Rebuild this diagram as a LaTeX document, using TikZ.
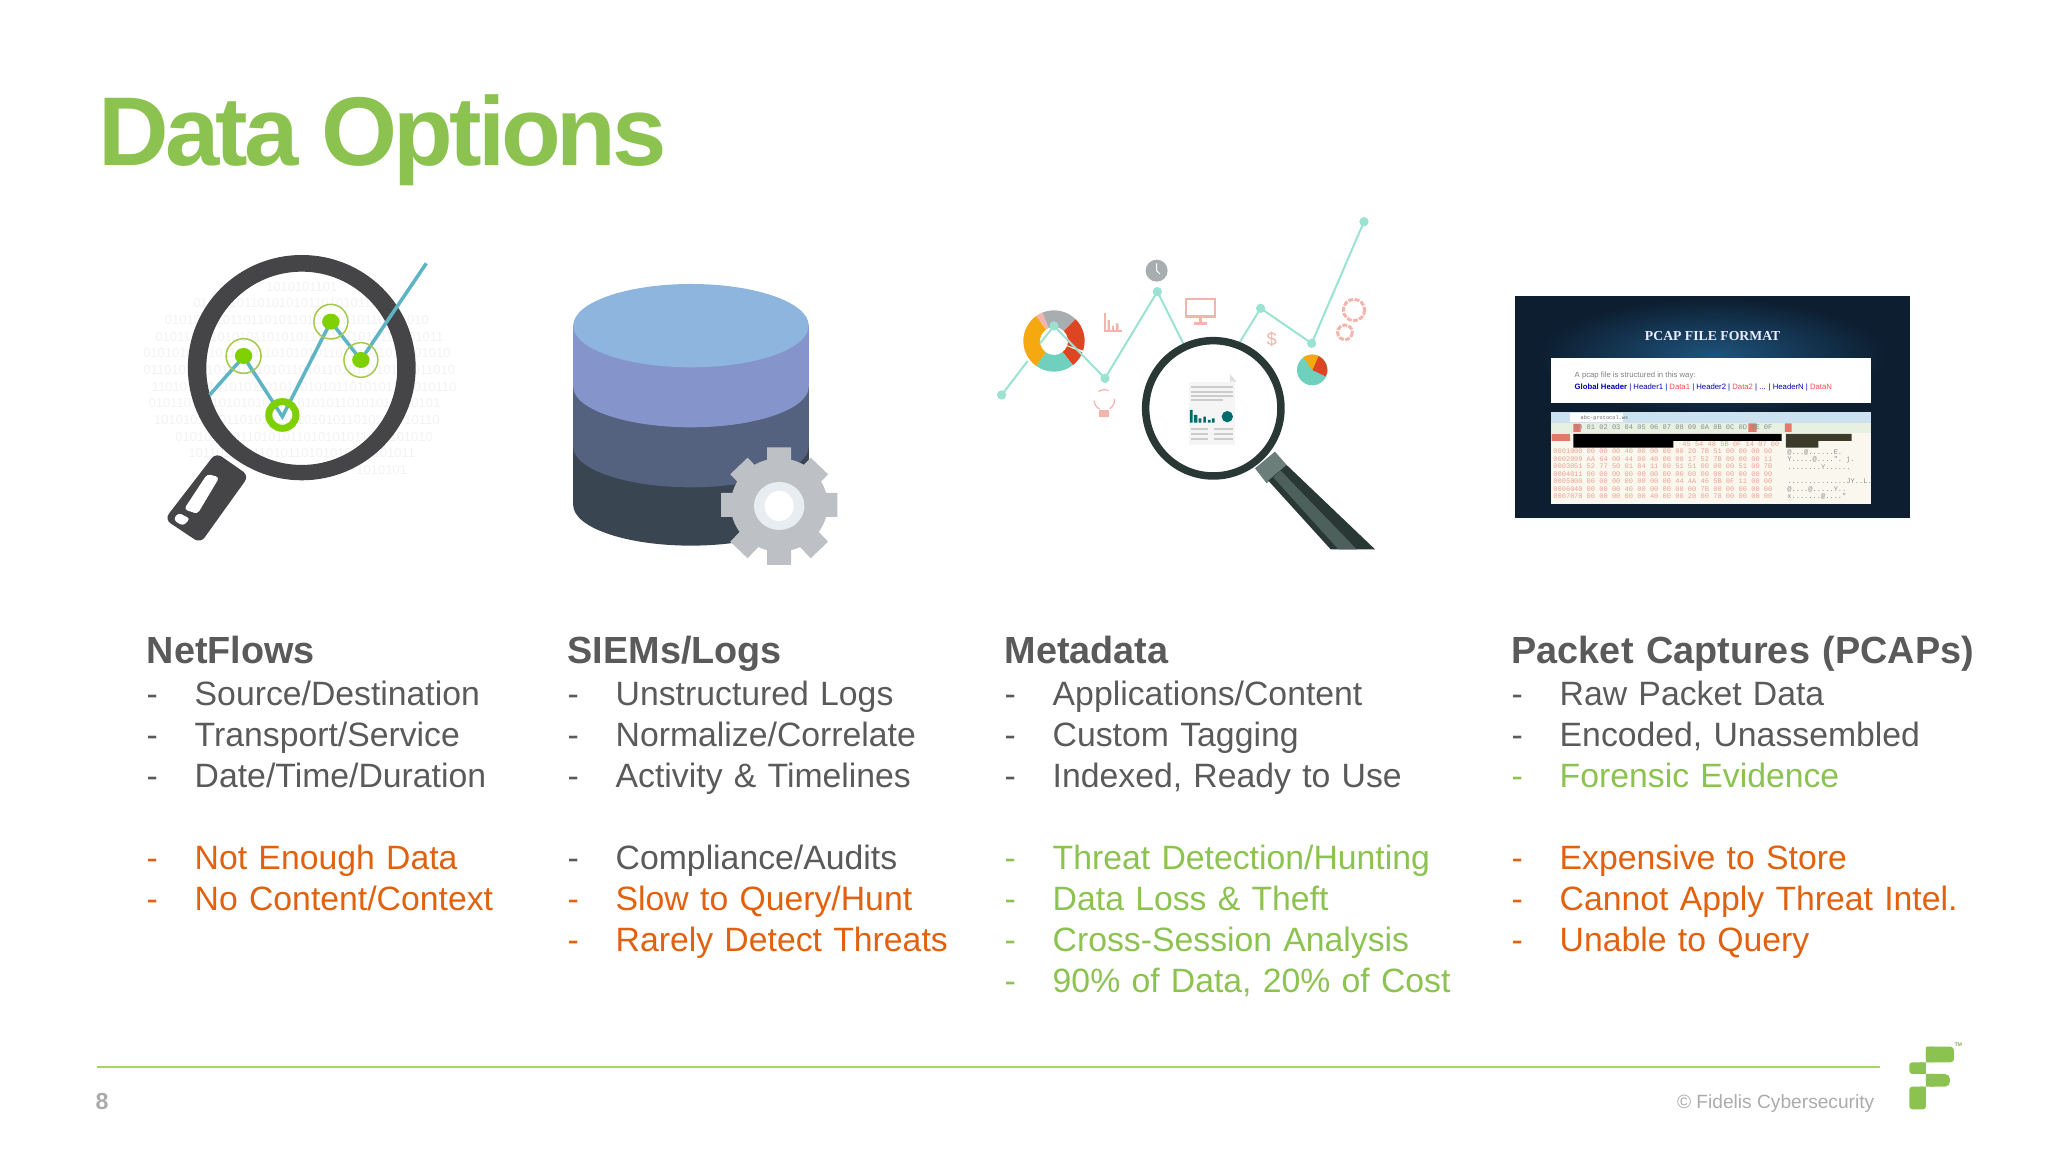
\documentclass[tikz,border=0pt]{standalone}
\usepackage{fontspec}
\setmainfont{Liberation Sans}
\newfontfamily\pcapserif{Liberation Serif}
\newfontfamily\pcapmono{Liberation Mono}
\definecolor{fidelisgreen}{HTML}{8CC350}
\definecolor{rulegreen}{HTML}{A5D46A}
\definecolor{bodygray}{HTML}{5A5A5A}
\definecolor{riskorange}{HTML}{E2610F}
\definecolor{footgray}{HTML}{ABABAB}
\definecolor{bitgray}{HTML}{F3F1F4}
\definecolor{lensdark}{HTML}{454548}
\definecolor{chartteal}{HTML}{5CB4C4}
\definecolor{dotgreen}{HTML}{7FD000}
\definecolor{halogreen}{HTML}{A3C94A}
\definecolor{mintline}{HTML}{9AE3D2}
\definecolor{mintfill}{HTML}{6FD0BE}
\definecolor{salmonicon}{HTML}{F2B4AC}
\definecolor{donutorange}{HTML}{F5A80F}
\definecolor{donutred}{HTML}{DE4522}
\definecolor{donutgray}{HTML}{A8AEB0}
\definecolor{darkhandle}{HTML}{2A3835}
\definecolor{hexsalmon}{HTML}{EBA194}
\newcommand{\listitem}[1]{\makebox[0.48cm][l]{-}#1}
\newcommand{\ringpart}[3]{\fill[#1] (#2:92) arc [start angle=#2, end angle=#3, radius=92] -- (#3:42) arc [start angle=#3, end angle=#2, radius=42] -- cycle;}
\tikzset{
  listline/.style={text width=8cm, align=left, text height=0.26cm, text depth=0.08cm, font=\fontsize{9.6}{11}\selectfont},
  heading/.style={listline, anchor=west, text=bodygray, font=\fontsize{10.75}{12}\selectfont\bfseries},
  plain/.style={listline, text=bodygray},
  risk/.style={listline, text=riskorange},
  good/.style={listline, text=fidelisgreen},
  bits/.style={text=bitgray, font=\fontsize{3.7}{5}\selectfont},
  hexrow/.style={anchor=west, text=hexsalmon, font=\fontsize{2}{2.4}\selectfont\pcapmono},
  hexside/.style={anchor=west, text=black!45, font=\fontsize{2}{2.4}\selectfont\pcapmono},
  mintdot/.style={mintline, fill=mintline}
}
\begin{document}
\begin{tikzpicture}[x=0.01cm, y=-0.01cm, node distance=0.409cm, every node/.style={inner sep=0pt}]
        \useasboundingbox (0,0) rectangle (2048,1152);

        \node (title) [anchor=base west, text=fidelisgreen, font=\fontsize{27.8}{30}\selectfont\bfseries\addfontfeature{LetterSpace=-4.1}] at (98,166) {Data Options};

        \begin{scope}[shift={(120,210)}, xscale=0.4847, yscale=0.3333]
            \node (bits1) [bits] at (375,230) {1010101101};
            \node (bits2) [bits] at (335,280) {0101010110101010110101011};
            \node (bits3) [bits] at (365,330) {0101010101101101011010101010110101010};
            \node (bits4) [bits] at (370,380) {01011110101010110101011101011010110101011};
            \node (bits5) [bits] at (365,430) {0101010101011010110101010110101011010101010};
            \node (bits6) [bits] at (370,480) {01101010110101011010110101101010110101011010};
            \node (bits7) [bits] at (380,530) {1101010110101011010110101011010101101010110};
            \node (bits8) [bits] at (360,580) {01011010110101010110101010110101011010101};
            \node (bits9) [bits] at (365,630) {1010101010110101011010101011010101010110};
            \node (bits10) [bits] at (380,680) {010101010110101011010101011010101010};
            \node (bits11) [bits] at (375,730) {10110101011010110101010110101011};
            \node (bits12) [bits] at (540,780) {1010101};

            \fill[lensdark, even odd rule] (375,473) ellipse [x radius=235, y radius=338] (375,475) ellipse [x radius=197, y radius=290];
            \fill[lensdark, rounded corners=2pt] (198,728) -- (266,797) -- (166,1000) -- (92,928) -- cycle;
            \fill[white, rounded corners=1pt] (180,792) -- (205,802) -- (160,912) -- (132,898) -- cycle;
            \fill[white, rounded corners=1pt] (120,908) -- (145,926) -- (130,948) -- (110,930) -- cycle;
            \draw[chartteal, line width=0.035cm] (185,555) -- (255,440) -- (335,620) -- (435,335) -- (497,450) -- (632,160);
            \draw[halogreen, line width=0.015cm] (255,438) ellipse [x radius=36, y radius=52];
            \draw[halogreen, line width=0.015cm] (435,335) ellipse [x radius=35, y radius=52];
            \draw[halogreen, line width=0.015cm] (497,450) ellipse [x radius=35, y radius=52];
            \fill[dotgreen] (255,438) ellipse [x radius=18, y radius=24];
            \fill[dotgreen] (435,335) ellipse [x radius=18, y radius=24];
            \fill[dotgreen] (497,450) ellipse [x radius=18, y radius=24];
            \draw[dotgreen, line width=0.07cm] (335,615) ellipse [x radius=28, y radius=40];

            \fill[fill={rgb,255:red,57;green,69;blue,81}] (935,345) -- (935,885) arc [start angle=180, end angle=0, x radius=243, y radius=122] -- (1421,345) -- cycle;
            \fill[fill={rgb,255:red,84;green,97;blue,127}] (935,345) -- (935,710) arc [start angle=180, end angle=0, x radius=243, y radius=122] -- (1421,345) -- cycle;
            \fill[fill={rgb,255:red,133;green,149;blue,203}] (935,345) -- (935,530) arc [start angle=180, end angle=0, x radius=243, y radius=122] -- (1421,345) -- cycle;
            \fill[fill={rgb,255:red,141;green,181;blue,222}] (1178,347) ellipse [x radius=243, y radius=125];
            \fill[fill={rgb,255:red,189;green,193;blue,198}] (1360,885) ellipse [x radius=100, y radius=140];
            \draw[draw={rgb,255:red,189;green,193;blue,198}, line width=0.24cm] (1360,712) -- (1360,1065) (1240,885) -- (1480,885) (1277,768) -- (1443,1020) (1443,768) -- (1277,1020);
            \fill[fill={rgb,255:red,232;green,237;blue,241}] (1360,888) ellipse [x radius=52, y radius=72];
            \fill[white] (1360,888) ellipse [x radius=30, y radius=45];
        \end{scope}

        \begin{scope}[shift={(960,200)}, scale=0.3333]
            \draw[mintline, line width=0.02cm] (125,585) -- (203,483);
            \begin{scope}[shift={(282,423)}]
                \ringpart{donutorange}{-235}{-125}
                \ringpart{salmonicon}{-125}{-112}
                \ringpart{donutgray}{-112}{-45}
                \ringpart{donutred}{-45}{18}
                \ringpart{donutred}{22}{52}
                \ringpart{mintfill}{52}{125}
            \end{scope}
            \draw[mintline, line width=0.02cm] (240,430) -- (282,378) -- (435,535) -- (592,275) -- (715,520);
            \draw[mintline, line width=0.02cm] (785,515) -- (902,325) -- (1055,430) -- (1212,65);
            \fill[mintdot] (125,585) circle (14);
            \fill[mintdot] (282,378) circle (14);
            \fill[mintdot] (435,535) circle (14);
            \fill[mintdot] (592,275) circle (14);
            \fill[mintdot] (902,325) circle (14);
            \fill[mintdot] (1055,430) circle (14);
            \fill[mintdot] (1212,65) circle (14);

            \fill[donutgray] (590,212) circle (33);
            \draw[white, line width=0.01cm] (590,190) -- (590,212) -- (600,222);

            \fill[mintfill] (1057,510) circle (46);
            \fill[donutred] (1057,510) -- (1075,468) arc [start angle=-65, end angle=25, radius=46] -- cycle;
            \fill[donutorange] (1057,510) -- (1030,472) arc [start angle=-125, end angle=-65, radius=46] -- cycle;

            \draw[salmonicon, line width=0.02cm] (435,338) -- (435,392) -- (485,392);
            \fill[salmonicon] (443,392) rectangle (450,360) (456,392) rectangle (462,378) (468,392) rectangle (476,370);
            \draw[salmonicon, line width=0.025cm] (678,297) rectangle (765,350) (721,350) -- (721,365) (702,370) -- (740,370);
            \node (dollar) [text=salmonicon, font=\fontsize{5.2}{6}\selectfont] at (935,418) {\$};
            \draw[salmonicon, line width=0.03cm, dash pattern=on 1.4pt off 0.4pt] (1182,330) circle (32) (1155,397) circle (22);
            \draw[salmonicon, line width=0.012cm, dashed] (433,600) circle (31);
            \fill[salmonicon] (418,630) rectangle (448,652);

            \fill[white] (760,625) circle (212);
            \fill[gray!8] (687,545) rectangle (825,735);
            \draw[gray!40, line width=0.02cm] (692,562) -- (818,562) (692,575) -- (818,575) (692,588) -- (818,588) (692,601) -- (790,601) (692,688) -- (745,688) (692,703) -- (745,703) (692,718) -- (745,718) (762,688) -- (818,688) (762,703) -- (818,703) (762,718) -- (818,718);
            \fill[teal!85!black] (690,668) rectangle (698,630) (702,668) rectangle (712,645) (716,668) rectangle (724,655) (730,668) rectangle (738,650) (744,668) rectangle (752,660) (756,668) rectangle (764,655);
            \fill[teal!85!black] (802,650) circle (17);
            \fill[gray!25] (810,522) -- (830,545) -- (810,545) -- cycle;
            \draw[darkhandle, line width=0.075cm] (760,625) circle (203);

            \fill[fill={rgb,255:red,108;green,126;blue,122}] (885,805) -- (945,755) -- (980,795) -- (920,850) -- cycle;
            \fill[darkhandle] (925,842) -- (980,795) -- (1245,1048) -- (1112,1048) -- cycle;
            \fill[fill={rgb,255:red,78;green,96;blue,91}] (962,812) -- (1190,1048) -- (1135,1048) -- (940,832) -- cycle;
        \end{scope}

        \begin{scope}[shift={(1490,280)}, scale=0.3333]
            \fill[fill={rgb,255:red,13;green,30;blue,48}] (76,48) rectangle (1259,714);
            \begin{scope}
                \clip (76,48) rectangle (1259,714);
                \shade[inner color={rgb,255:red,30;green,84;blue,125}, outer color={rgb,255:red,13;green,30;blue,48}] (668,230) ellipse [x radius=520, y radius=175];
            \end{scope}
            \node (pcaptitle) [text=white!92!blue, font=\fontsize{3.9}{5}\selectfont\pcapserif\bfseries] at (668,168) {PCAP FILE FORMAT};
            \fill[white] (183,235) rectangle (1143,370);
            \node (pcapline) [anchor=west, text=black!50, font=\fontsize{2.2}{3}\selectfont] at (252,286) {A pcap file is structured in this way:};
            \node (pcapfields) [anchor=west, text=blue!70!black, font=\fontsize{2.2}{3}\selectfont] at (252,324) {\textbf{Global Header} | Header1 | \textcolor{red!70}{Data1} | Header2 | \textcolor{red!70}{Data2} | ... | HeaderN | \textcolor{red!70}{DataN}};

            \fill[fill={rgb,255:red,250;green,248;blue,238}] (183,395) rectangle (1143,672);
            \fill[fill={rgb,255:red,205;green,226;blue,240}] (183,395) rectangle (1143,430);
            \fill[white] (240,400) rectangle (400,426);
            \node (pcapfile) [anchor=west, text=black!60, font=\fontsize{1.5}{2}\selectfont\pcapmono] at (270,413) {abc-protocol.ws};
            \fill[fill={rgb,255:red,232;green,240;blue,226}] (183,430) rectangle (1143,458);
            \fill[fill={rgb,255:red,230;green,120;blue,105}] (250,432) rectangle (272,456) (775,430) rectangle (800,456) (885,430) rectangle (905,456) (185,462) rectangle (240,483);
            \fill[black] (250,462) rectangle (875,483) (250,483) rectangle (550,503);
            \fill[fill={rgb,255:red,60;green,58;blue,42}] (888,462) rectangle (1085,483) (888,483) rectangle (985,503);
            \node (hexhead) [hexrow, text=black!45] at (250,441) {00 01 02 03  04 05 06 07  08 09 0A 0B  0C 0D 0E 0F};
            \node (hex0) [hexrow] at (575,493) {45 54 48 5B  0F 14 07 00};
            \node (hex1) [hexrow] at (250,515) {00 00 00 00  40 00 00 00  00 20 7B 51  00 00 00 00};
            \node (hex2) [hexrow] at (250,537) {99 AA 64 00  44 00 40 00  00 17 52 7B  00 00 00 11};
            \node (hex3) [hexrow] at (250,560) {51 52 77 50  01 84 11 00  51 51 00 00  00 51 00 7B};
            \node (hex4) [hexrow] at (250,583) {11 00 00 00  00 00 00 00  00 00 00 00  00 00 00 00};
            \node (hex5) [hexrow] at (250,605) {00 00 00 00  00 00 00 00  44 4A 46 5B  0F 11 00 00};
            \node (hex6) [hexrow] at (250,628) {40 00 00 00  40 00 00 00  00 00 7B 00  00 00 00 00};
            \node (hex7) [hexrow] at (250,650) {78 00 00 00  00 00 40 00  00 20 00 78  00 00 00 00};
            \node (side1) [hexside] at (890,517) {@...@......E.};
            \node (side2) [hexside] at (890,540) {Y.....@....".\;\;j.};
            \node (side3) [hexside] at (890,562) {........Y......};
            \node (side4) [hexside] at (890,605) {..............JY..L.};
            \node (side5) [hexside] at (890,628) {@....@.....Y..};
            \node (side6) [hexside] at (890,650) {x.......@...."};
            \node (lab1) [hexrow] at (188,515) {00010};
            \node (lab2) [hexrow] at (188,537) {00020};
            \node (lab3) [hexrow] at (188,560) {00030};
            \node (lab4) [hexrow] at (188,583) {00040};
            \node (lab5) [hexrow] at (188,605) {00050};
            \node (lab6) [hexrow] at (188,628) {00060};
            \node (lab7) [hexrow] at (188,650) {00070};
        \end{scope}

        \node (netflows) [heading] at (146,654.6) {NetFlows};
        \node (nf1) [plain, below of=netflows, yshift=-0.013cm] {\listitem{Source/Destination}};
        \node (nf2) [plain, below of=nf1] {\listitem{Transport/Service}};
        \node (nf3) [plain, below of=nf2] {\listitem{Date/Time/Duration}};
        \node (nf4) [risk, below of=nf3, yshift=-0.409cm] {\listitem{Not Enough Data}};
        \node (nf5) [risk, below of=nf4] {\listitem{No Content/Context}};

        \node (siems) [heading] at (567,654.6) {SIEMs/Logs};
        \node (sl1) [plain, below of=siems, yshift=-0.013cm] {\listitem{Unstructured Logs}};
        \node (sl2) [plain, below of=sl1] {\listitem{Normalize/Correlate}};
        \node (sl3) [plain, below of=sl2] {\listitem{Activity \& Timelines}};
        \node (sl4) [plain, below of=sl3, yshift=-0.409cm] {\listitem{Compliance/Audits}};
        \node (sl5) [risk, below of=sl4] {\listitem{Slow to Query/Hunt}};
        \node (sl6) [risk, below of=sl5] {\listitem{Rarely Detect Threats}};

        \node (metadata) [heading] at (1004,654.6) {Metadata};
        \node (md1) [plain, below of=metadata, yshift=-0.013cm] {\listitem{Applications/Content}};
        \node (md2) [plain, below of=md1] {\listitem{Custom Tagging}};
        \node (md3) [plain, below of=md2] {\listitem{Indexed, Ready to Use}};
        \node (md4) [good, below of=md3, yshift=-0.409cm] {\listitem{Threat Detection/Hunting}};
        \node (md5) [good, below of=md4] {\listitem{Data Loss \& Theft}};
        \node (md6) [good, below of=md5] {\listitem{Cross-Session Analysis}};
        \node (md7) [good, below of=md6] {\listitem{90\% of Data, 20\% of Cost}};

        \node (pcaps) [heading] at (1511,654.6) {Packet Captures (PCAPs)};
        \node (pc1) [plain, below of=pcaps, yshift=-0.013cm] {\listitem{Raw Packet Data}};
        \node (pc2) [plain, below of=pc1] {\listitem{Encoded, Unassembled}};
        \node (pc3) [good, below of=pc2] {\listitem{Forensic Evidence}};
        \node (pc4) [risk, below of=pc3, yshift=-0.409cm] {\listitem{Expensive to Store}};
        \node (pc5) [risk, below of=pc4] {\listitem{Cannot Apply Threat Intel.}};
        \node (pc6) [risk, below of=pc5] {\listitem{Unable to Query}};

        \coordinate (ruleleft) at (97,1067);
        \coordinate (ruleright) at (1880,1067);
        \draw[rulegreen, line width=0.016cm] (ruleleft) -- (ruleright);
        \node (pagenum) [anchor=base west, text=footgray, font=\fontsize{6.6}{8}\selectfont\bfseries] at (95,1109) {8};
        \node (copyright) [anchor=base east, text=footgray, font=\fontsize{5.45}{7}\selectfont] at (1875,1108) {© Fidelis Cybersecurity};

        \begin{scope}[shift={(1640,1020)}, scale=0.3333]
            \fill[fidelisgreen, rounded corners=0.035cm] (858,80) -- (942,80) -- (942,127) -- (858,127) -- cycle;
            \fill[fidelisgreen, rounded corners=0.03cm] (858,127) -- (808,127) -- (808,162) -- (858,162) -- cycle;
            \fill[fidelisgreen, rounded corners=0.05cm] (858,162) -- (930,162) -- (930,200) -- (858,200) -- cycle;
            \fill[fidelisgreen, rounded corners=0.03cm] (808,200) -- (858,200) -- (858,268) -- (808,268) -- cycle;
            \fill[fidelisgreen] (858,80) rectangle (880,127) (840,127) rectangle (858,162) (858,162) rectangle (880,200) (840,200) rectangle (858,215);
            \node (trademark) [text=fidelisgreen!70!gray, font=\fontsize{1.5}{2}\selectfont\bfseries] at (955,75) {TM};
        \end{scope}
    \end{tikzpicture}
\end{document}
